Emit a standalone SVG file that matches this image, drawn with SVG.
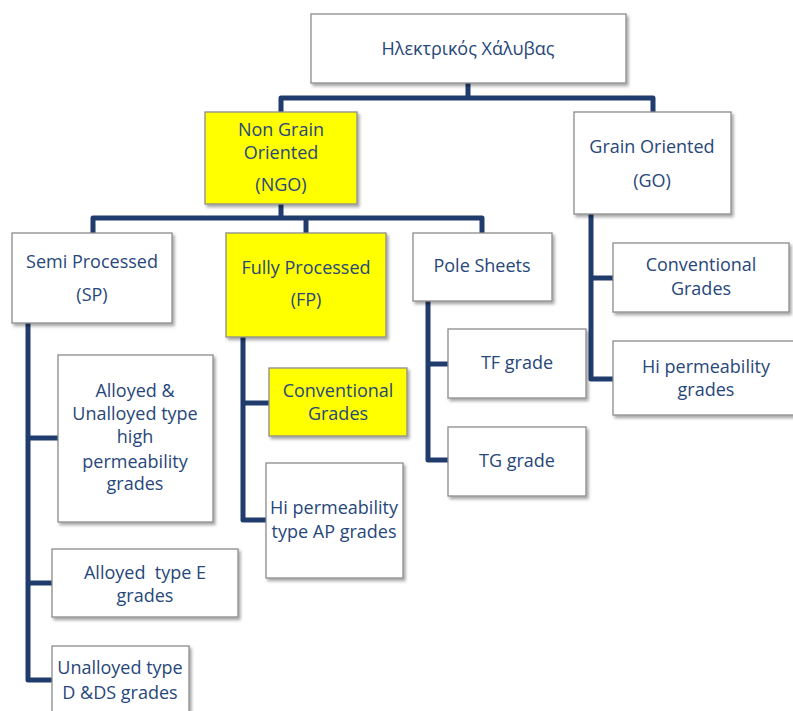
<svg xmlns="http://www.w3.org/2000/svg" width="793" height="711" viewBox="0 0 793 711">
<defs>
<filter id="sh" x="-10%" y="-10%" width="125%" height="130%">
<feDropShadow dx="2" dy="2.5" stdDeviation="1.5" flood-color="#000" flood-opacity="0.35"/>
</filter>
</defs>
<style>
.box{fill:#fff;stroke:#8c8c8c;stroke-width:1.3;filter:url(#sh)}
.yel{fill:#ffff00;stroke:#8c8c8c;stroke-width:1.3;filter:url(#sh)}
.t{font-family:"Open Sans","Noto Sans","DejaVu Sans",sans-serif;font-size:18px;fill:#27477a;text-anchor:middle}
.c{fill:none;stroke:#1f3c6c;stroke-width:5;stroke-linejoin:round;stroke-linecap:butt}
</style>
<rect width="793" height="711" fill="#fff"/>
<g id="connectors">
<path class="c" d="M468,83 V98"/>
<path class="c" d="M281,112 V98 H653 V112"/>
<path class="c" d="M281,204 V218"/>
<path class="c" d="M93,233 V218 H482 V233"/>
<path class="c" d="M306,218 V233"/>
<path class="c" d="M28,323 V680 H52"/>
<path class="c" d="M28,438 H58"/>
<path class="c" d="M28,583 H52"/>
<path class="c" d="M243,337 V520 H266"/>
<path class="c" d="M243,403 H269"/>
<path class="c" d="M428,301 V460 H448"/>
<path class="c" d="M428,364 H448"/>
<path class="c" d="M591,214 V379 H613"/>
<path class="c" d="M591,278 H613"/>
</g>
<g id="root">
<rect class="box" x="311" y="14" width="315" height="69"/>
<text class="t" x="468" y="55">Ηλεκτρικός Χάλυβας</text>
</g>
<g id="ngo">
<rect class="yel" x="205" y="112" width="152" height="92"/>
<text class="t" x="281" y="136">Non Grain</text>
<text class="t" x="281" y="159">Oriented</text>
<text class="t" x="281" y="191">(NGO)</text>
</g>
<g id="go">
<rect class="box" x="574" y="112" width="157" height="102"/>
<text class="t" x="652" y="153">Grain Oriented</text>
<text class="t" x="652" y="187">(GO)</text>
</g>
<g id="sp">
<rect class="box" x="12" y="233" width="160" height="90"/>
<text class="t" x="92" y="268">Semi Processed</text>
<text class="t" x="92" y="301">(SP)</text>
</g>
<g id="fp">
<rect class="yel" x="226" y="233" width="160" height="104"/>
<text class="t" x="306" y="274">Fully Processed</text>
<text class="t" x="306" y="306">(FP)</text>
</g>
<g id="pole">
<rect class="box" x="413" y="233" width="139" height="68"/>
<text class="t" x="482" y="272">Pole Sheets</text>
</g>
<g id="go-conv">
<rect class="box" x="613" y="243" width="176" height="69"/>
<text class="t" x="701" y="271">Conventional</text>
<text class="t" x="701" y="295">Grades</text>
</g>
<g id="go-hi">
<rect class="box" x="613" y="341" width="182" height="74"/>
<text class="t" x="706" y="373">Hi permeability</text>
<text class="t" x="706" y="396">grades</text>
</g>
<g id="tf">
<rect class="box" x="448" y="329" width="138" height="69"/>
<text class="t" x="517" y="369">TF grade</text>
</g>
<g id="tg">
<rect class="box" x="448" y="427" width="138" height="69"/>
<text class="t" x="517" y="467">TG grade</text>
</g>
<g id="fp-conv">
<rect class="yel" x="269" y="368" width="138" height="68"/>
<text class="t" x="338" y="397">Conventional</text>
<text class="t" x="338" y="420">Grades</text>
</g>
<g id="fp-hi">
<rect class="box" x="266" y="463" width="137" height="115"/>
<text class="t" x="334" y="514">Hi permeability</text>
<text class="t" x="334" y="538">type AP grades</text>
</g>
<g id="sp-au">
<rect class="box" x="58" y="355" width="155" height="167"/>
<text class="t" x="135" y="397">Alloyed &amp;</text>
<text class="t" x="135" y="420">Unalloyed type</text>
<text class="t" x="135" y="443">high</text>
<text class="t" x="135" y="468">permeability</text>
<text class="t" x="135" y="490">grades</text>
</g>
<g id="sp-e">
<rect class="box" x="52" y="549" width="186" height="68"/>
<text class="t" x="145" y="579" xml:space="preserve">Alloyed  type E</text>
<text class="t" x="145" y="602">grades</text>
</g>
<g id="sp-d">
<rect class="box" x="52" y="646" width="137" height="80"/>
<text class="t" x="120" y="674">Unalloyed type</text>
<text class="t" x="120" y="699">D &amp;DS grades</text>
</g>
</svg>
